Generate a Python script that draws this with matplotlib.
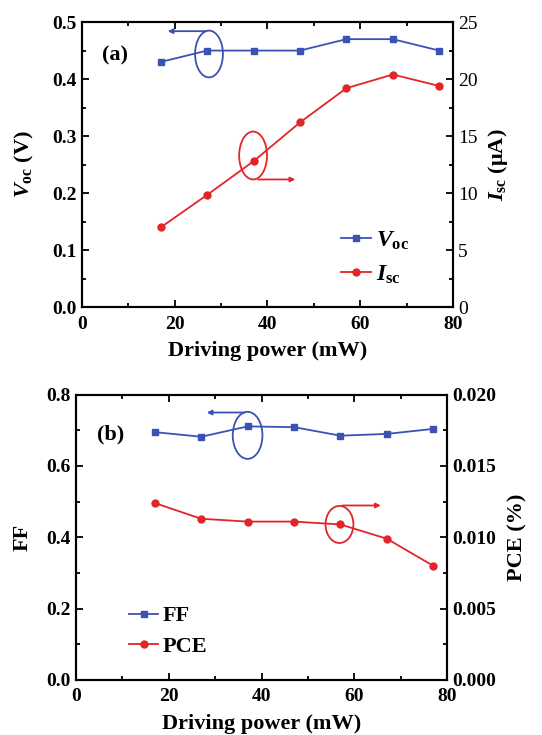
import matplotlib
matplotlib.use("Agg")
import matplotlib.pyplot as plt
from matplotlib.patches import Ellipse
from matplotlib.ticker import MultipleLocator

plt.rcParams['font.family'] = ['Liberation Serif', 'DejaVu Serif']
plt.rcParams['font.weight'] = 'bold'
plt.rcParams['mathtext.fontset'] = 'custom'
plt.rcParams['mathtext.rm'] = 'Liberation Serif:bold'
plt.rcParams['mathtext.it'] = 'Liberation Serif:bold:italic'
plt.rcParams['mathtext.bf'] = 'Liberation Serif:bold'

# data
power = [17, 27, 37, 47, 57, 67, 77]
voc = [0.43, 0.45, 0.45, 0.45, 0.47, 0.47, 0.45]
isc = [7.0, 9.85, 12.8, 16.2, 19.2, 20.4, 19.4]
ff = [0.695, 0.682, 0.711, 0.709, 0.685, 0.690, 0.704]
pce = [0.0124, 0.0113, 0.0111, 0.0111, 0.0109, 0.0099, 0.0080]

BLUE = '#3a52b4'
RED = '#e32428'
TICK_FS = 14
LABEL_FS = 16

fig = plt.figure(figsize=(5.42, 7.35), dpi=100)


def style_axes(ax, ax2, xmaj, ymaj, ymin, y2maj, y2min, right_bold=True):
    ax.set_xlim(0, 80)
    ax.xaxis.set_major_locator(MultipleLocator(xmaj))
    ax.xaxis.set_minor_locator(MultipleLocator(xmaj / 2))
    ax.yaxis.set_major_locator(MultipleLocator(ymaj))
    ax.yaxis.set_minor_locator(MultipleLocator(ymin))
    ax2.yaxis.set_major_locator(MultipleLocator(y2maj))
    ax2.yaxis.set_minor_locator(MultipleLocator(y2min))
    ax.tick_params(which='both', direction='in', top=True, right=False,
                   labelsize=TICK_FS, width=1.3)
    ax.tick_params(axis='x', pad=6)
    ax.tick_params(which='major', length=5)
    ax.tick_params(which='minor', length=3)
    ax2.tick_params(which='both', direction='in', labelsize=TICK_FS, width=1.3)
    ax2.tick_params(which='major', length=5)
    ax2.tick_params(which='minor', length=3)
    for lbl in ax2.get_yticklabels():
        lbl.set_fontweight('bold' if right_bold else 'normal')
    for sp in ax.spines.values():
        sp.set_linewidth(1.5)
    for sp in ax2.spines.values():
        sp.set_linewidth(1.5)


# ---------- panel (a) ----------
axa = fig.add_axes([0.151, 0.582, 0.685, 0.388])
axa2 = axa.twinx()
l1, = axa.plot(power, voc, '-s', color=BLUE, ms=5, lw=1.3)
l2, = axa2.plot(power, isc, '-o', color=RED, ms=5, lw=1.3)
axa.set_ylim(0, 0.5)
axa2.set_ylim(0, 25)
style_axes(axa, axa2, 20, 0.1, 0.05, 5, 2.5, right_bold=False)
axa.set_yticks([0, 0.1, 0.2, 0.3, 0.4, 0.5])
axa.set_yticklabels(['0.0', '0.1', '0.2', '0.3', '0.4', '0.5'])
axa.set_xlabel('Driving power (mW)', fontsize=LABEL_FS, fontweight='bold', labelpad=6)
axa.set_ylabel(r'$V_{\rm oc}$ (V)', fontsize=LABEL_FS, fontweight='bold', labelpad=12)
axa2.set_ylabel(r'$I_{\rm sc}$ (μA)', fontsize=LABEL_FS, fontweight='bold', labelpad=6)
axa.text(4.3, 0.432, '(a)', fontsize=16, fontweight='bold')

axa.add_patch(Ellipse((27.4, 0.444), 6.0, 0.082, fill=False, ec=BLUE, lw=1.3))
axa.annotate('', xy=(17.9, 0.484), xytext=(27.4, 0.484),
             arrowprops=dict(arrowstyle='-|>', color=BLUE, lw=1.3, mutation_scale=7))
axa2.add_patch(Ellipse((36.9, 13.3), 6.0, 4.2, fill=False, ec=RED, lw=1.3))
axa2.annotate('', xy=(46.6, 11.2), xytext=(37.4, 11.2),
              arrowprops=dict(arrowstyle='-|>', color=RED, lw=1.3, mutation_scale=7))

axa.legend([l1, l2], [r'$V_{\rm oc}$', r'$I_{\rm sc}$'], loc='lower left',
           bbox_to_anchor=(0.64, 0.0), frameon=False, fontsize=17,
           handlelength=1.3, handletextpad=0.2, labelspacing=0.5)

# ---------- panel (b) ----------
axb = fig.add_axes([0.140, 0.075, 0.685, 0.388])
axb2 = axb.twinx()
l3, = axb.plot(power, ff, '-s', color=BLUE, ms=5, lw=1.3)
l4, = axb2.plot(power, pce, '-o', color=RED, ms=5, lw=1.3)
axb.set_ylim(0, 0.8)
axb2.set_ylim(0, 0.02)
style_axes(axb, axb2, 20, 0.2, 0.1, 0.005, 0.0025, right_bold=True)
axb.set_yticks([0, 0.2, 0.4, 0.6, 0.8])
axb.set_yticklabels(['0.0', '0.2', '0.4', '0.6', '0.8'])
axb2.set_yticks([0, 0.005, 0.01, 0.015, 0.02])
axb2.set_yticklabels(['0.000', '0.005', '0.010', '0.015', '0.020'], fontweight='bold')
axb.set_xlabel('Driving power (mW)', fontsize=LABEL_FS, fontweight='bold', labelpad=6)
axb.set_ylabel('FF', fontsize=LABEL_FS, fontweight='bold', labelpad=10)
axb2.set_ylabel('PCE (%)', fontsize=LABEL_FS, fontweight='bold', labelpad=8)
axb.text(4.5, 0.675, '(b)', fontsize=16, fontweight='bold')

axb.add_patch(Ellipse((37.0, 0.686), 6.4, 0.132, fill=False, ec=BLUE, lw=1.3))
axb.annotate('', xy=(27.6, 0.750), xytext=(37.0, 0.750),
             arrowprops=dict(arrowstyle='-|>', color=BLUE, lw=1.3, mutation_scale=7))
axb2.add_patch(Ellipse((56.8, 0.0109), 6.0, 0.0026, fill=False, ec=RED, lw=1.3))
axb2.annotate('', xy=(66.3, 0.01223), xytext=(56.8, 0.01223),
              arrowprops=dict(arrowstyle='-|>', color=RED, lw=1.3, mutation_scale=7))

axb.legend([l3, l4], ['FF', 'PCE'], loc='lower left',
           bbox_to_anchor=(0.09, 0.01), frameon=False, fontsize=16,
           handlelength=1.3, handletextpad=0.2, labelspacing=0.45)

fig.savefig('out.png', dpi=100)
